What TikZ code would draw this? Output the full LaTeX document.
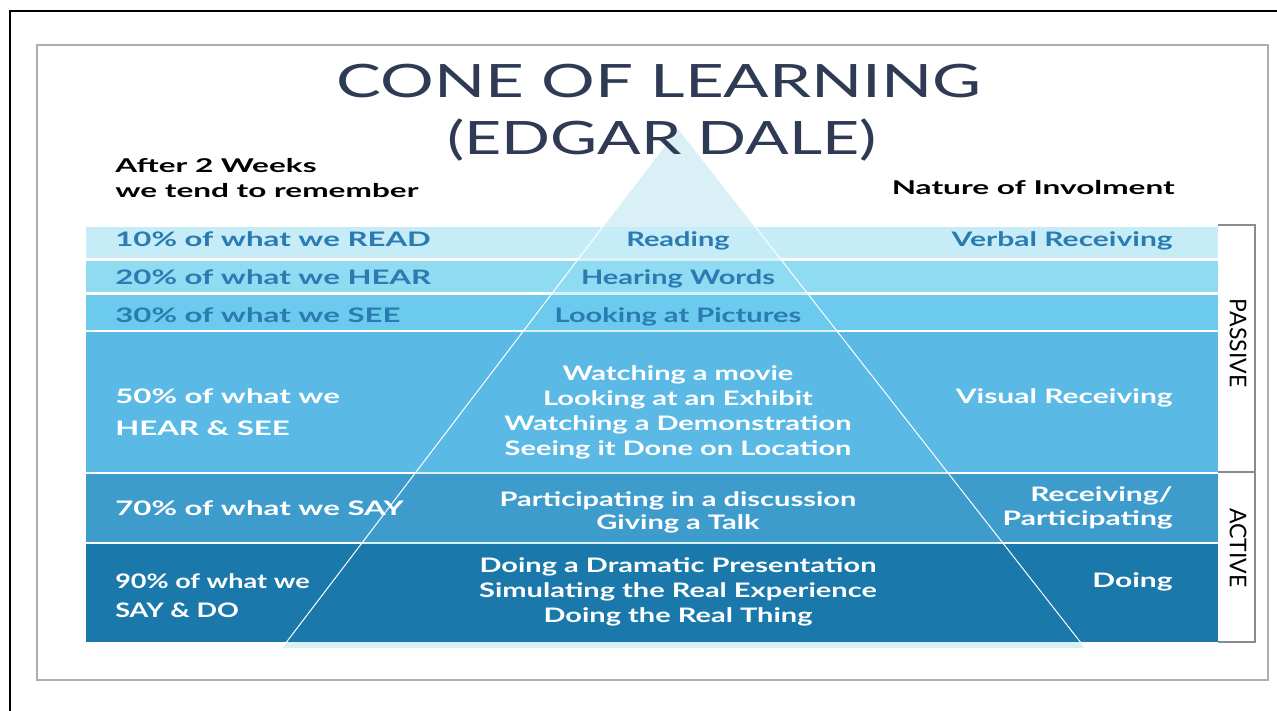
\documentclass[tikz,border=0pt]{standalone}
\usepackage{fontspec}
\setmainfont{Lato}
\usepackage{tikz}
\usetikzlibrary{positioning}

\definecolor{rowA}{HTML}{C6ECF7}
\definecolor{rowB}{HTML}{8EDBF2}
\definecolor{rowC}{HTML}{6CCAEE}
\definecolor{rowD}{HTML}{5AB9E5}
\definecolor{rowE}{HTML}{3E9CCD}
\definecolor{rowF}{HTML}{1A78AA}
\definecolor{conefill}{HTML}{D9F0F7}
\definecolor{inkblue}{HTML}{2A7BB2}
\definecolor{titleink}{HTML}{2F3A55}
\definecolor{framegray}{HTML}{A6B0B8}

\tikzset{
  head/.style={font=\fontsize{46}{50}\selectfont, text=titleink, inner sep=0pt},
  note/.style={font=\fontsize{19}{22}\selectfont\bfseries, text=black, inner sep=0pt, xscale=1.66},
  lab/.style={font=\fontsize{20}{24}\selectfont\bfseries, inner sep=0pt},
  lablft/.style={lab, xscale=1.56},
  labmid/.style={lab, xscale=1.45},
  labrgt/.style={lab, xscale=1.5},
  narrow/.style={lab, xscale=1.35},
  side/.style={font=\fontsize{23}{26}\selectfont, text=black, inner sep=0pt},
  cone/.style={draw=white, line width=1pt},
  boxline/.style={draw=framegray!80!black, line width=1.2pt}
}

\begin{document}
\begin{tikzpicture}[x=1pt,y=-1pt]
  \useasboundingbox (0,0) rectangle (1277,711);
  \fill[white] (0,0) rectangle (1277,711);
  \draw[line width=2pt] (10,711) -- (10,11) -- (1277,11);
  \draw[framegray, line width=1.5pt] (37,45) rectangle (1268,680);

  % cone behind the bands
  \coordinate (apex) at (678,128);
  \coordinate (baseL) at (282,648);
  \coordinate (baseR) at (1085,648);
  \fill[conefill] (baseL) -- (apex) -- (baseR) -- cycle;

  % bands
  \fill[rowA] (86,227) rectangle (1218,258);
  \fill[rowB] (86,261) rectangle (1218,292);
  \fill[rowC] (86,295) rectangle (1218,330);
  \fill[rowD] (86,332) rectangle (1218,472);
  \fill[rowE] (86,473.5) rectangle (1218,542);
  \fill[rowF] (86,543.5) rectangle (1218,642);

  \draw[cone] (baseL) -- (apex) -- (baseR);

  % passive / active box
  \draw[boxline] (1218,225) -- (1255,225) -- (1255,642) -- (1218,642);
  \draw[boxline] (1218,472) -- (1255,472);
  \draw (1238,343) node[side, rotate=-90] (passive) {PASSIVE};
  \draw (1238,548) node[side, rotate=-90] (active) {ACTIVE};

  % title and headers
  \draw (659,98) node[head, xscale=1.46, anchor=base] (title) {CONE OF LEARNING};
  \draw (662,155) node[head, xscale=1.40, anchor=base] (dale) {(EDGAR DALE)};
  \draw (115,173) node[note, anchor=base west] (after) {After 2 Weeks};
  \draw (115,198) node[note, anchor=base west] (tend) {we tend to remember};
  \draw (1175,195) node[note, anchor=base east] (nature) {Nature of Involment};

  % left column
  \draw (115,247) node[lablft, text=inkblue, anchor=base west] (read) {10\% of what we READ};
  \draw (115,285) node[lablft, text=inkblue, anchor=base west] (hear) {20\% of what we HEAR};
  \draw (115,323) node[lablft, text=inkblue, anchor=base west] (see) {30\% of what we SEE};
  \draw (115,403) node[lablft, text=white, anchor=base west] (hs) {50\% of what we};
  \draw (115,435) node[lablft, text=white, anchor=base west] (hs2) {HEAR \& SEE};
  \draw (115,515) node[lablft, text=white, anchor=base west] (say) {70\% of what we SAY};
  \draw (115,588) node[narrow, text=white, anchor=base west] (sd) {90\% of what we};
  \draw (115,617) node[narrow, text=white, anchor=base west] (sd2) {SAY \& DO};

  % middle column
  \draw (678,247) node[labmid, text=inkblue, anchor=base] (reading) {Reading};
  \draw (678,285) node[labmid, text=inkblue, anchor=base] (words) {Hearing Words};
  \draw (678,323) node[labmid, text=inkblue, anchor=base] (pictures) {Looking at Pictures};
  \draw (678,380) node[labmid, text=white, anchor=base] (movie) {Watching a movie};
  \draw (678,405) node[labmid, text=white, anchor=base] (exhibit) {Looking at an Exhibit};
  \draw (678,430) node[labmid, text=white, anchor=base] (demo) {Watching a Demonstration};
  \draw (678,455) node[labmid, text=white, anchor=base] (location) {Seeing it Done on Location};
  \draw (678,506) node[labmid, text=white, anchor=base] (discussion) {Participating in a discussion};
  \draw (678,529) node[labmid, text=white, anchor=base] (talk) {Giving a Talk};
  \draw (678,572) node[labmid, text=white, anchor=base] (drama) {Doing a Dramatic Presentation};
  \draw (678,597) node[labmid, text=white, anchor=base] (simulate) {Simulating the Real Experience};
  \draw (678,622) node[labmid, text=white, anchor=base] (thing) {Doing the Real Thing};

  % right column
  \draw (1173,247) node[labrgt, text=inkblue, anchor=base east] (verbal) {Verbal Receiving};
  \draw (1173,403) node[labrgt, text=white, anchor=base east] (visual) {Visual Receiving};
  \draw (1173,501) node[labrgt, text=white, anchor=base east] (receiving) {Receiving/};
  \draw (1173,525) node[labrgt, text=white, anchor=base east] (particip) {Participating};
  \draw (1173,587) node[labrgt, text=white, anchor=base east] (doing) {Doing};
\end{tikzpicture}
\end{document}
